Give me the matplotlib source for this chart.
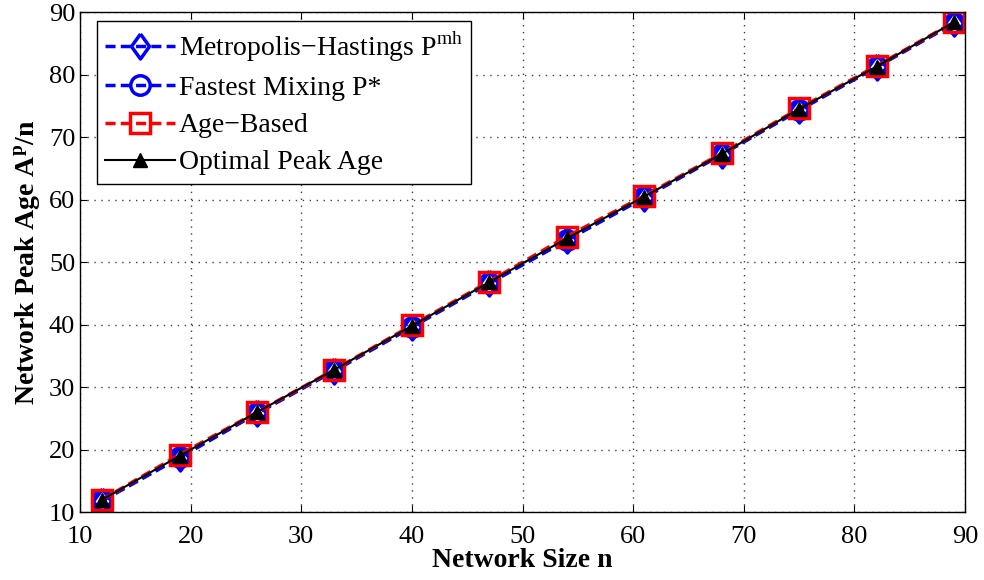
import numpy as np
import matplotlib
matplotlib.use("Agg")
import matplotlib.pyplot as plt

plt.rcParams['font.family'] = ['Liberation Serif', 'DejaVu Serif']
plt.rcParams['mathtext.fontset'] = 'custom'
plt.rcParams['mathtext.rm'] = 'Liberation Serif'
plt.rcParams['mathtext.bf'] = 'Liberation Serif:bold'

# network sizes
n = [12, 19, 26, 33, 40, 47, 54, 61, 68, 75, 82, 89]

# network peak age per node
mh = [11.8, 18.7, 25.8, 32.6, 39.6, 46.6, 53.5, 60.3, 67.2, 74.3, 81.2, 88.2]
fastest = [11.9, 18.8, 25.9, 32.7, 39.7, 46.7, 53.6, 60.4, 67.3, 74.4, 81.3, 88.3]
age_based = [12.0, 19.2, 26.0, 32.8, 39.9, 46.9, 54.1, 60.6, 67.4, 74.6, 81.4, 88.4]
optimal = [12.0, 19.0, 26.0, 32.8, 39.8, 46.8, 53.8, 60.5, 67.3, 74.5, 81.3, 88.4]

# diamond a bit narrower than it is tall, like the reference
diamond = [(0, 1), (0.72, 0), (0, -1), (-0.72, 0), (0, 1)]
dash = (2.9, 1.5)

fig = plt.figure(figsize=(9.84, 5.8), dpi=100)
ax = fig.add_axes([0.0813, 0.117, 0.8994, 0.862])

ax.plot(n, mh, '--', color='blue', lw=2.5, dashes=dash, marker=diamond, ms=18, mfc='none', mew=2.5,
        label='Metropolis\u2212Hastings P$^{\\mathrm{mh}}$')
ax.plot(n, fastest, '--', color='blue', lw=2.5, dashes=dash, marker='o', ms=14, mfc='none', mew=2.5,
        label='Fastest Mixing P*')
ax.plot(n, age_based, '--', color='red', lw=2.5, dashes=dash, marker='s', ms=14, mfc='none', mew=2.5,
        label='Age\u2212Based')
ax.plot(n, optimal, '-', color='black', lw=1.5, marker='^', ms=10, mfc='black',
        label='Optimal Peak Age')

ax.set_xlim(10, 90)
ax.set_ylim(10, 90)
ax.set_xticks(np.arange(10, 91, 10))
ax.set_yticks(np.arange(10, 91, 10))
ax.tick_params(direction='in', labelsize=19, top=True, right=True, length=5)
ax.tick_params(axis='x', pad=10)
ax.grid(True, linestyle=(0, (1, 4)), color='black', lw=1.0, alpha=0.75)
for s in ax.spines.values():
    s.set_linewidth(1.0)

ax.set_xlabel('Network Size n', fontsize=20, fontweight='bold', labelpad=0)
ax.set_ylabel('Network Peak Age A$^{\\mathbf{p}}$/n', fontsize=20, fontweight='bold', labelpad=4)

leg = ax.legend(loc='upper left', bbox_to_anchor=(0.0192, 0.982), borderaxespad=0,
                fontsize=20, handlelength=2.5, fancybox=False, framealpha=1,
                edgecolor='black', borderpad=0.3, labelspacing=0.42, handletextpad=0.15)
leg.get_frame().set_linewidth(1.0)

fig.savefig('out.png', dpi=100)
